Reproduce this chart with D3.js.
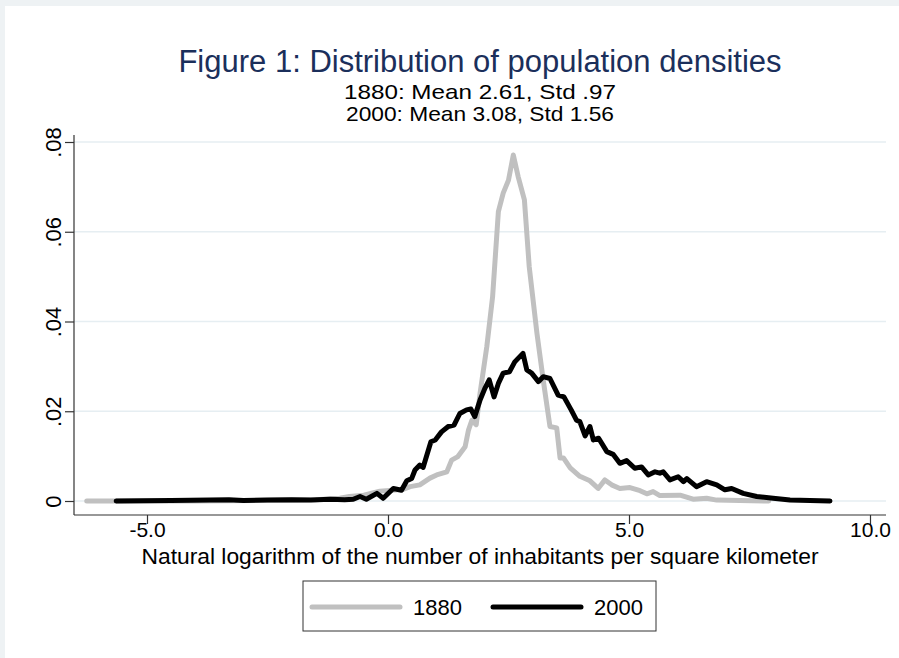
<!DOCTYPE html>
<html>
<head>
<meta charset="utf-8">
<script src="https://cdn.jsdelivr.net/npm/d3@7"></script>
<style>
  body { margin: 0; background: #fff; }
  svg { display: block; font-family: "Liberation Sans", Arial, sans-serif; }
</style>
</head>
<body>
<svg id="chart"></svg>
<script>
// density estimates
const x1880 = [-6.25, -4.0, -2.0, -1.5, -1.0, -0.8, -0.5, -0.17, 0.1, 0.31, 0.46, 0.66, 0.87, 1.01, 1.22, 1.32, 1.45, 1.6, 1.67, 1.74, 1.83, 1.91, 2.05, 2.17, 2.29, 2.39, 2.5, 2.6, 2.7, 2.83, 2.93, 3.09, 3.22, 3.36, 3.5, 3.57, 3.64, 3.78, 3.98, 4.19, 4.36, 4.5, 4.64, 4.81, 5.02, 5.23, 5.37, 5.5, 5.64, 6.06, 6.33, 6.61, 6.82, 7.3, 7.9];
const y1880 = [0, 0, 0.0002, 0.0003, 0.0006, 0.001, 0.0013, 0.0022, 0.0024, 0.0026, 0.0032, 0.0036, 0.0051, 0.0058, 0.0065, 0.0091, 0.0099, 0.0121, 0.0158, 0.018, 0.017, 0.024, 0.0344, 0.0455, 0.0645, 0.0686, 0.0715, 0.0771, 0.0723, 0.0671, 0.0522, 0.0374, 0.027, 0.0166, 0.0163, 0.0096, 0.0096, 0.0074, 0.0055, 0.0045, 0.0028, 0.0047, 0.0036, 0.0028, 0.003, 0.0023, 0.0016, 0.0021, 0.0012, 0.0013, 0.0004, 0.0006, 0.0002, 0.0001, 0];

const x2000 = [-5.64, -4.5, -3.3, -3.0, -2.5, -2.0, -1.6, -1.2, -0.9, -0.72, -0.58, -0.45, -0.23, -0.1, 0.11, 0.28, 0.39, 0.49, 0.56, 0.66, 0.73, 0.89, 0.98, 1.11, 1.25, 1.37, 1.49, 1.63, 1.72, 1.8, 1.91, 2.01, 2.1, 2.2, 2.29, 2.39, 2.52, 2.63, 2.8, 2.88, 2.98, 3.12, 3.22, 3.36, 3.53, 3.65, 3.8, 3.91, 3.98, 4.09, 4.19, 4.26, 4.37, 4.54, 4.67, 4.81, 4.95, 5.12, 5.26, 5.4, 5.54, 5.64, 5.71, 5.85, 6.02, 6.13, 6.2, 6.4, 6.61, 6.82, 6.99, 7.13, 7.37, 7.65, 7.99, 8.34, 9.17];
const y2000 = [0, 0.0001, 0.0003, 0.0001, 0.0002, 0.0003, 0.0002, 0.0004, 0.0003, 0.0004, 0.001, 0.0004, 0.0017, 0.0006, 0.0028, 0.0024, 0.0045, 0.005, 0.0069, 0.008, 0.0075, 0.0132, 0.0136, 0.0154, 0.0166, 0.0169, 0.0195, 0.0203, 0.0205, 0.0188, 0.0225, 0.0251, 0.027, 0.0232, 0.0262, 0.0285, 0.0288, 0.031, 0.0329, 0.0292, 0.0285, 0.0266, 0.0277, 0.0273, 0.0236, 0.0232, 0.0203, 0.018, 0.0177, 0.0145, 0.0166, 0.0136, 0.014, 0.011, 0.0104, 0.0084, 0.009, 0.0073, 0.0076, 0.0058, 0.0065, 0.0062, 0.0065, 0.0047, 0.0054, 0.0043, 0.005, 0.0032, 0.0043, 0.0036, 0.0025, 0.0028, 0.0017, 0.001, 0.0006, 0.0002, 0];

const yTicks = [0, 0.02, 0.04, 0.06, 0.08];
const yTickLabels = ["0", ".02", ".04", ".06", ".08"];
const xTicks = [-5, 0, 5, 10];
const xTickLabels = ["-5.0", "0.0", "5.0", "10.0"];
const seriesNames = ["1880", "2000"];
const seriesColors = ["#c0c0c0", "#000000"];

const width = 899, height = 658;
const plot = { left: 74, right: 886, top: 135, bottom: 515 };
const font = "Liberation Sans, Arial, sans-serif";

const svg = d3.select("#chart").attr("width", width).attr("height", height);

// graph region: faint outer strip, white inside
svg.append("rect").attr("width", width).attr("height", height).attr("fill", "#eef2f4");
svg.append("rect").attr("x", 5).attr("y", 6).attr("width", width - 5).attr("height", height - 6).attr("fill", "#fff");

const x = d3.scaleLinear().domain([-5, 10]).range([147, 870]);
const y = d3.scaleLinear().domain([0, 0.08]).range([501, 142]);

// gridlines
svg.append("g")
    .selectAll("line")
    .data(yTicks)
    .join("line")
    .attr("x1", plot.left)
    .attr("x2", plot.right)
    .attr("y1", d => y(d))
    .attr("y2", d => y(d))
    .attr("stroke", "#e6eef2")
    .attr("stroke-width", 1.5);

// curves
const line = d3.line().x(d => x(d[0])).y(d => y(d[1]));
const series = [
    d3.zip(x1880, y1880),
    d3.zip(x2000, y2000)
];
series.forEach((pts, i) => {
    svg.append("path")
        .datum(pts)
        .attr("d", line)
        .attr("fill", "none")
        .attr("stroke", seriesColors[i])
        .attr("stroke-width", 5)
        .attr("stroke-linejoin", "round")
        .attr("stroke-linecap", "round");
});

// Y axis
const yAxis = svg.append("g")
    .attr("transform", `translate(${plot.left},0)`)
    .call(d3.axisLeft(y).tickValues(yTicks).tickFormat((d, i) => yTickLabels[i]).tickSize(9).tickSizeOuter(0));
yAxis.select(".domain").attr("d", `M0,${plot.top}V${plot.bottom}`);
yAxis.selectAll("text")
    .attr("x", 0).attr("dy", null)
    .attr("transform", "translate(-13,0) rotate(-90)")
    .attr("text-anchor", "middle")
    .attr("font-size", 22)
    .attr("font-family", font)
    .attr("fill", "#000");

// X axis
const xAxis = svg.append("g")
    .attr("transform", `translate(0,${plot.bottom})`)
    .call(d3.axisBottom(x).tickValues(xTicks).tickFormat((d, i) => xTickLabels[i]).tickSize(9).tickSizeOuter(0));
xAxis.select(".domain").attr("d", `M${plot.left},0H${plot.right}`);
xAxis.selectAll("text")
    .attr("y", 22).attr("dy", null)
    .attr("font-size", 21)
    .attr("font-family", font)
    .attr("fill", "#000");
svg.selectAll(".domain, .tick line").attr("stroke", "#333").attr("stroke-width", 1.2);

// titles
svg.append("text")
    .attr("x", 480).attr("y", 72)
    .attr("text-anchor", "middle")
    .attr("font-size", 31)
    .attr("fill", "#1b2f5b")
    .text("Figure 1: Distribution of population densities");
svg.append("text")
    .attr("x", 480).attr("y", 99)
    .attr("text-anchor", "middle")
    .attr("font-size", 21)
    .attr("textLength", 272).attr("lengthAdjust", "spacingAndGlyphs")
    .text("1880: Mean 2.61, Std .97");
svg.append("text")
    .attr("x", 480).attr("y", 121)
    .attr("text-anchor", "middle")
    .attr("font-size", 21)
    .attr("textLength", 268).attr("lengthAdjust", "spacingAndGlyphs")
    .text("2000: Mean 3.08, Std 1.56");
svg.append("text")
    .attr("x", 480).attr("y", 564)
    .attr("text-anchor", "middle")
    .attr("font-size", 22)
    .attr("textLength", 677).attr("lengthAdjust", "spacingAndGlyphs")
    .text("Natural logarithm of the number of inhabitants per square kilometer");

// legend
const legend = svg.append("g");
legend.append("rect")
    .attr("x", 303).attr("y", 581).attr("width", 353).attr("height", 50)
    .attr("fill", "#fff").attr("stroke", "#333").attr("stroke-width", 1);
seriesNames.forEach((name, i) => {
    const lx = 312 + i * 181;
    legend.append("line")
        .attr("x1", lx).attr("x2", lx + 88)
        .attr("y1", 607).attr("y2", 607)
        .attr("stroke", seriesColors[i])
        .attr("stroke-width", 5)
        .attr("stroke-linecap", "round");
    legend.append("text")
        .attr("x", lx + 101).attr("y", 615)
        .attr("font-size", 22)
        .text(name);
});
</script>
</body>
</html>
